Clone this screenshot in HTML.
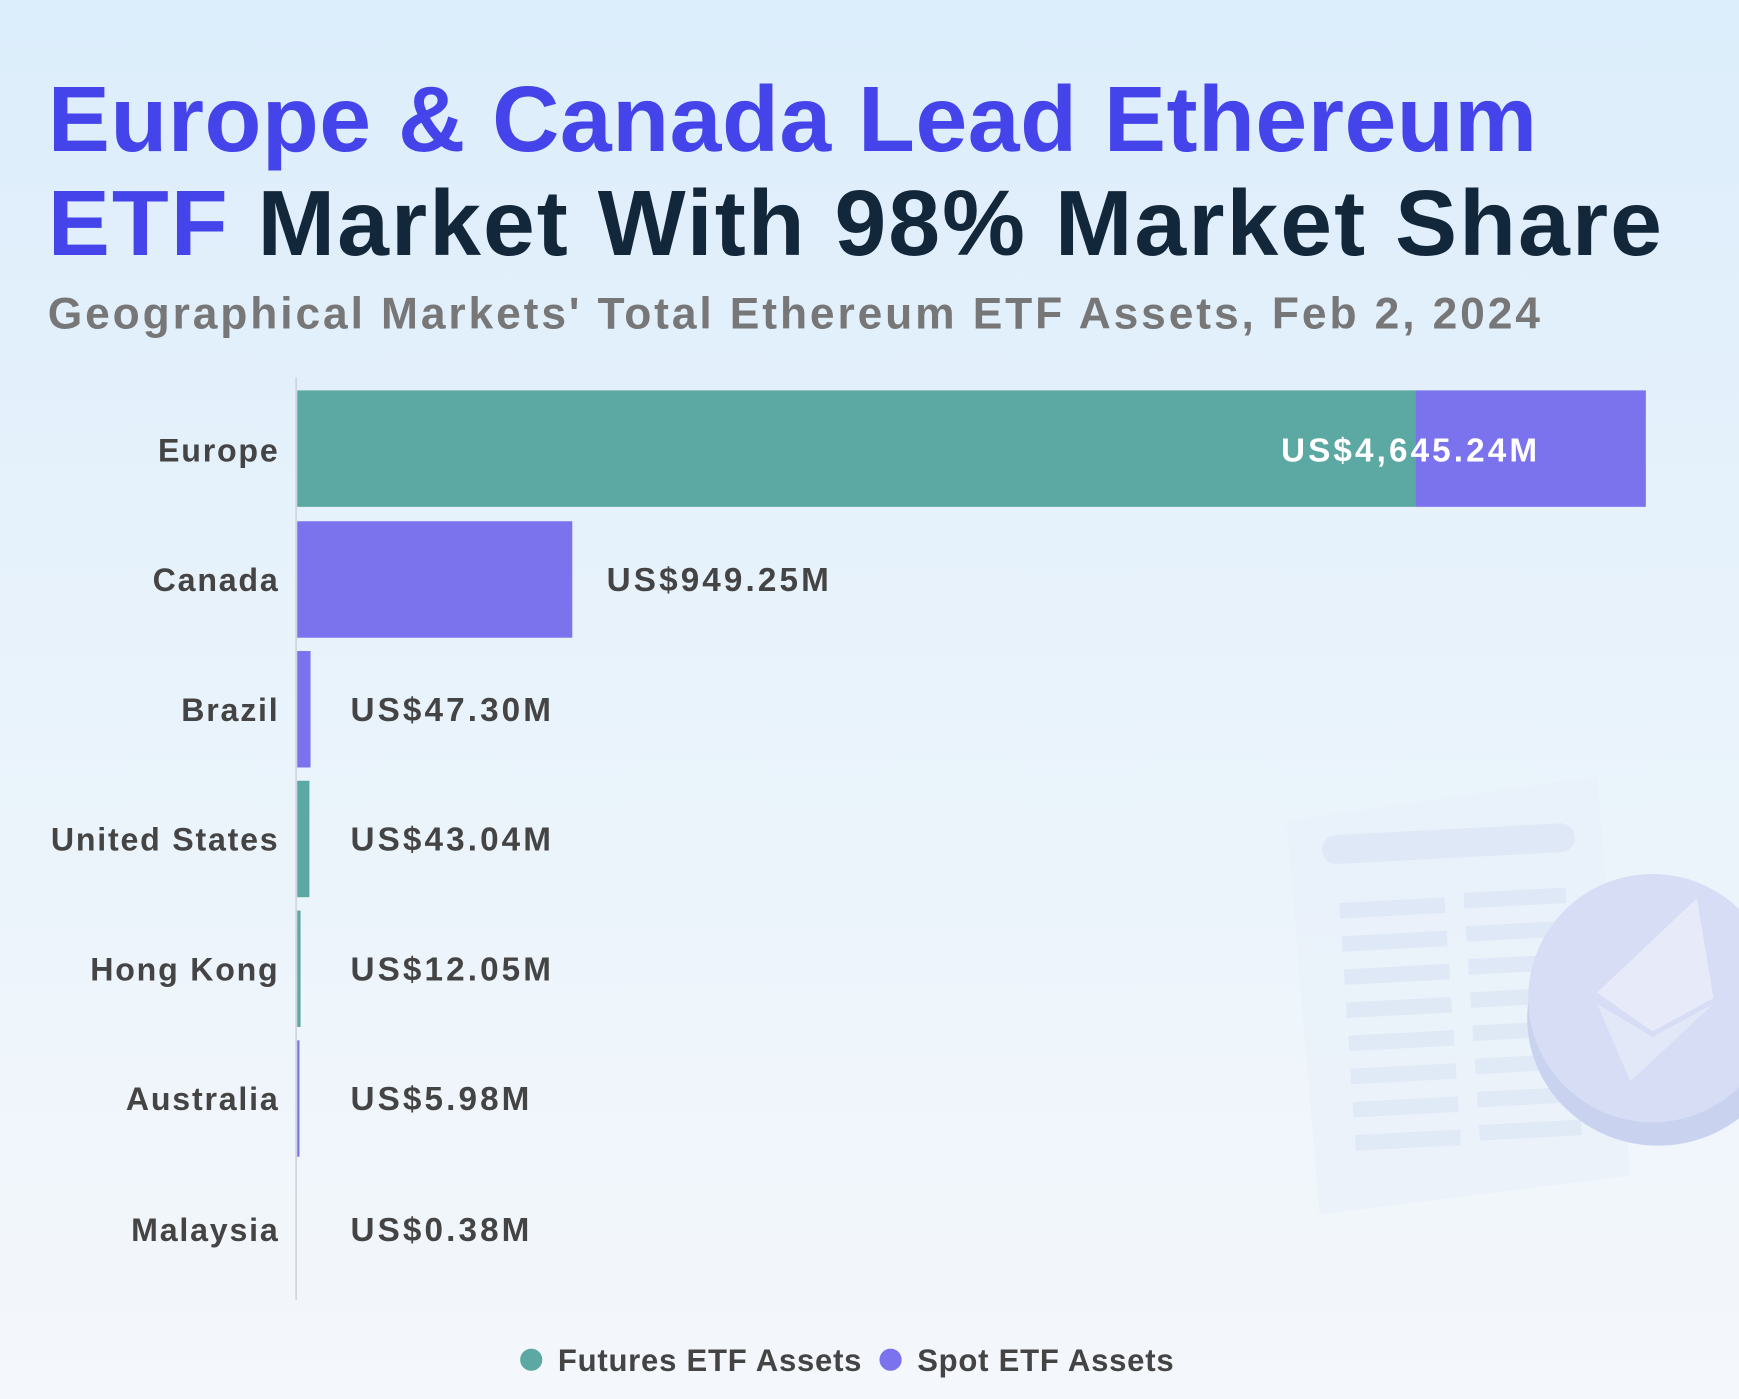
<!DOCTYPE html>
<html><head><meta charset="utf-8"><style>
html,body{margin:0;padding:0;}
body{width:1739px;height:1399px;overflow:hidden;background:linear-gradient(180deg,#dcedfb 0%,#e9f3fb 50%,#f4f7fb 100%);font-family:"Liberation Sans",sans-serif;}
#w{position:absolute;left:0;top:0;width:1568px;height:1261px;transform:scale(1.10906);transform-origin:0 0;}
.t{position:absolute;left:43px;font-weight:bold;font-size:84px;line-height:1;white-space:nowrap;letter-spacing:0.45px}
.b{color:#4444ea}.d{color:#13273b}
.sub{position:absolute;left:43px;top:261px;font-size:40px;font-weight:bold;color:#777;white-space:nowrap;letter-spacing:2.6px}
.bar{position:absolute;height:105px}
.cl{position:absolute;right:1316px;font-size:29px;font-weight:bold;color:#444;white-space:nowrap;text-align:right;letter-spacing:1.6px}
.vl{position:absolute;left:316px;font-size:30px;font-weight:bold;color:#444;white-space:nowrap;letter-spacing:2.8px}
.tl{background:#5ca8a2}.pu{background:#7b72ee}
</style></head><body><div id="w">
<svg style="position:absolute;left:0;top:0" width="1568" height="1261">
<g opacity="0.55">
<polygon points="1160,740 1440,700 1470,1060 1190,1095" fill="#e8eef9"/>
<rect x="1192" y="748" width="228" height="26" rx="13" fill="#d4def2" transform="rotate(-3 1300 760)"/>
<g fill="#d4def2">
<rect x="1208" y="812" width="95" height="14" transform="rotate(-3 1250 820)"/><rect x="1320" y="803" width="92" height="14" transform="rotate(-3 1360 810)"/>
<rect x="1210" y="842" width="95" height="14" transform="rotate(-3 1250 850)"/><rect x="1322" y="833" width="92" height="14" transform="rotate(-3 1360 840)"/>
<rect x="1212" y="872" width="95" height="14" transform="rotate(-3 1250 880)"/><rect x="1324" y="863" width="92" height="14" transform="rotate(-3 1360 870)"/>
<rect x="1214" y="902" width="95" height="14" transform="rotate(-3 1250 910)"/><rect x="1326" y="893" width="92" height="14" transform="rotate(-3 1360 900)"/>
<rect x="1216" y="932" width="95" height="14" transform="rotate(-3 1250 940)"/><rect x="1328" y="923" width="92" height="14" transform="rotate(-3 1360 930)"/>
<rect x="1218" y="962" width="95" height="14" transform="rotate(-3 1250 970)"/><rect x="1330" y="953" width="92" height="14" transform="rotate(-3 1360 960)"/>
<rect x="1220" y="992" width="95" height="14" transform="rotate(-3 1250 1000)"/><rect x="1332" y="983" width="92" height="14" transform="rotate(-3 1360 990)"/>
<rect x="1222" y="1022" width="95" height="14" transform="rotate(-3 1250 1030)"/><rect x="1334" y="1013" width="92" height="14" transform="rotate(-3 1360 1020)"/>
</g></g>
<ellipse cx="1495" cy="918" rx="118" ry="115" fill="#c9d3f0"/>
<ellipse cx="1490" cy="900" rx="112" ry="112" fill="#d6ddf5"/>
<polygon points="1530,810 1545,900 1490,930 1440,895" fill="#e7ebf9"/>
<polygon points="1440,905 1490,935 1545,905 1470,975" fill="#e3e8f8"/>
<line x1="267" y1="340" x2="267" y2="1172" stroke="#cfd5de" stroke-width="1.5"/>
<circle cx="479" cy="1226" r="10" fill="#5ca8a2"/><circle cx="803" cy="1226" r="10" fill="#7b72ee"/>
<text x="503" y="1236" font-family="Liberation Sans" font-weight="bold" font-size="28" letter-spacing="0.7" fill="#444">Futures ETF Assets</text>
<text x="827" y="1236" font-family="Liberation Sans" font-weight="bold" font-size="28" letter-spacing="0.7" fill="#444">Spot ETF Assets</text>
</svg>
<div class="t b" style="top:65px">Europe &amp; Canada Lead Ethereum</div>
<div class="t" style="top:159px;letter-spacing:1.8px"><span class="b">ETF</span> <span class="d">Market With 98% Market Share</span></div>
<div class="sub">Geographical Markets' Total Ethereum ETF Assets, Feb 2, 2024</div>

<div class="bar tl" style="left:268px;top:352px;width:1008px"></div>
<div class="bar pu" style="left:1276px;top:352px;width:208px"></div>
<div class="bar pu" style="left:268px;top:470px;width:248px"></div>
<div class="bar pu" style="left:268px;top:587px;width:12px"></div>
<div class="bar tl" style="left:268px;top:704px;width:11px"></div>
<div class="bar tl" style="left:268px;top:821px;width:3px"></div>
<div class="bar pu" style="left:268px;top:938px;width:2px"></div>

<div class="cl" style="top:391px">Europe</div>
<div class="cl" style="top:508px">Canada</div>
<div class="cl" style="top:625px">Brazil</div>
<div class="cl" style="top:742px">United States</div>
<div class="cl" style="top:859px">Hong Kong</div>
<div class="cl" style="top:976px">Australia</div>
<div class="cl" style="top:1094px">Malaysia</div>

<div class="vl" style="left:1155px;top:390px;color:#fff">US$4,645.24M</div>
<div class="vl" style="left:547px;top:507px">US$949.25M</div>
<div class="vl" style="top:624px">US$47.30M</div>
<div class="vl" style="top:741px">US$43.04M</div>
<div class="vl" style="top:858px">US$12.05M</div>
<div class="vl" style="top:975px">US$5.98M</div>
<div class="vl" style="top:1093px">US$0.38M</div>
</div></body></html>
